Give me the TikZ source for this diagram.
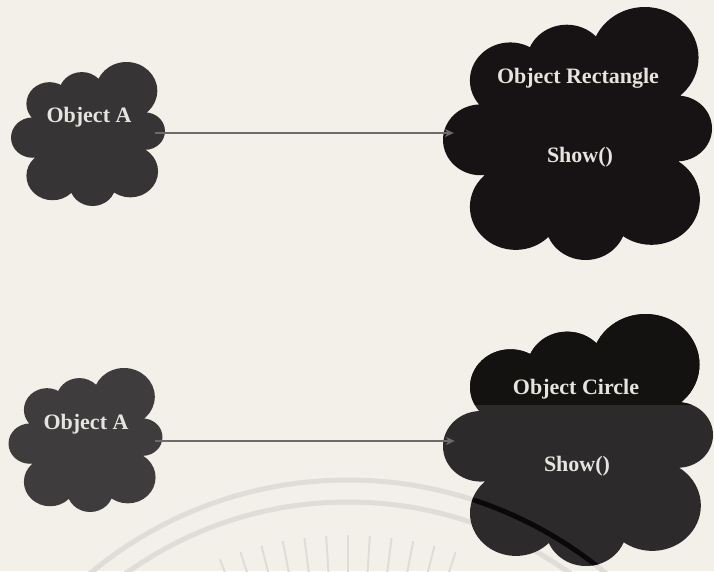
\documentclass[tikz,border=0pt]{standalone}
\usepackage{fontspec}
\setmainfont{Liberation Serif}
\usetikzlibrary{arrows.meta,calc}
\definecolor{bg}{HTML}{F2F0E8}
\definecolor{wmark}{HTML}{DFDDD7}
\definecolor{leftcloudA}{HTML}{363434}
\definecolor{leftcloudB}{HTML}{3E3C3C}
\definecolor{darkcloud}{HTML}{171213}
\definecolor{brtop}{HTML}{141111}
\definecolor{brlow}{HTML}{2C2A2A}
\definecolor{bandcol}{HTML}{0A0808}
\definecolor{txtcol}{HTML}{E6E4DE}
\definecolor{arrgray}{HTML}{6E6C6A}
\newcommand\cloudfill[1]{%
  \path[#1] (-0.50,0.42) circle (0.30)
    (-0.08,0.56) circle (0.30)
    (0.50,0.60) circle (0.40)
    (-0.72,-0.05) circle (0.28)
    (-0.46,-0.58) circle (0.34)
    (0.06,-0.70) circle (0.30)
    (0.55,-0.52) circle (0.36)
    (0.74,0.04) circle (0.26)
    (0,0) ellipse (0.72 and 0.68);}
\tikzset{
  lbl/.style={text=txtcol, font=\fontsize{22}{25}\selectfont\bfseries, inner sep=0pt},
  cloudbox/.style={inner sep=0pt, minimum width=#1},
  arr/.style={draw=arrgray, line width=1.8pt, -{Stealth[length=9pt,width=8pt]}},
  wm/.style={draw=wmark, line width=5pt},
  ray/.style={draw=wmark, line width=2pt}
}
\begin{document}
\begin{tikzpicture}[x=1pt,y=-1pt]
\useasboundingbox (0,0) rectangle (714,571);
\fill[bg] (0,0) rectangle (714,571);
% watermark
\begin{scope}
  \clip (0,0) rectangle (714,571);
  \draw[wm] (348,883) circle (403);
  \draw[wm] (348,883) circle (381);
  \foreach \a in {72,75.6,...,112} {
    \draw[ray] ($(348,883)+(-\a:310)$) -- ($(348,883)+(-\a:348)$);
  }
\end{scope}
% clouds
\begin{scope}[shift={(88,134)},xscale=77,yscale=-72]
  \cloudfill{fill=leftcloudA}
\end{scope}
\begin{scope}[shift={(577.5,133.5)},xscale=134.5,yscale=-126.5]
  \cloudfill{fill=darkcloud}
\end{scope}
\begin{scope}[shift={(85.5,440)},xscale=77,yscale=-72]
  \cloudfill{fill=leftcloudB}
\end{scope}
\begin{scope}[shift={(578,440)},xscale=135,yscale=-126]
  \cloudfill{fill=brlow}
\end{scope}
\begin{scope}
  \clip (0,0) rectangle (714,404);
  \begin{scope}[shift={(578,440)},xscale=135,yscale=-126]
    \cloudfill{fill=brtop}
  \end{scope}
\end{scope}
\begin{scope}[shift={(578,440)},xscale=135,yscale=-126]
  \cloudfill{clip}
  \begin{scope}[reset cm]
    \draw[draw=bandcol, line width=5pt] (348,883) circle (403);
  \end{scope}
\end{scope}
% invisible cloud boxes for connectors
\node[cloudbox=154, minimum height=144] (cA1) at (88,133) {};
\node[cloudbox=269, minimum height=253] (cR) at (577.5,133) {};
\node[cloudbox=154, minimum height=144] (cA2) at (85.5,441) {};
\node[cloudbox=270, minimum height=252] (cC) at (578,441) {};
% labels
\node[lbl] (tA1) at (89,117) {Object A};
\node[lbl] (tR) at (578,78) {Object Rectangle};
\node[lbl] (sR) at (580,157) {Show()};
\node[lbl] (tA2) at (86,424) {Object A};
\node[lbl] (tC) at (576,389) {Object Circle};
\node[lbl] (sC) at (577,466) {Show()};
% connectors
\draw[arr] ([xshift=-10pt]cA1.east) -- ([xshift=11pt]cR.west);
\draw[arr] ([xshift=-8pt]cA2.east) -- ([xshift=12pt]cC.west);
\end{tikzpicture}
\end{document}
